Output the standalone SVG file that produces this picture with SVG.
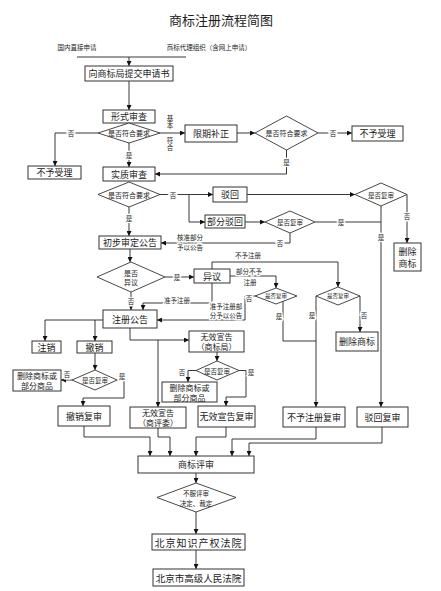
<svg xmlns="http://www.w3.org/2000/svg" width="441" height="591" viewBox="0 0 441 591">
<style>
.bg{fill:#fff}
.box{fill:#fff;stroke:#333;stroke-width:1}
.dia{fill:#fff;stroke:#333;stroke-width:0.9}
.ln{fill:none;stroke:#222;stroke-width:0.9}
.t{font-family:"Noto Sans CJK SC","Noto Sans CJK TC",sans-serif;text-anchor:middle;dominant-baseline:central;fill:#222}
.b{font-size:9px}
.m{font-size:8px}
.s{font-size:6.5px}
.d{font-size:7px}
.v{font-family:"Noto Sans CJK SC",sans-serif;font-size:6.5px;fill:#222;writing-mode:vertical-rl;text-anchor:middle}
.lbl{font-family:"Noto Sans CJK SC",sans-serif;text-anchor:middle;dominant-baseline:central;fill:#222;font-size:6.5px;paint-order:stroke;stroke:#fff;stroke-width:2.5px}
</style>
<defs>
<marker id="ar" viewBox="0 0 6 6" refX="6" refY="3" markerWidth="5" markerHeight="5" markerUnits="userSpaceOnUse" orient="auto">
<path d="M0,0 L6,3 L0,6 z" fill="#111"/>
</marker>
</defs>
<rect class="bg" x="0" y="0" width="441" height="591"/>
<text class="t" x="221" y="19" font-size="13">商标注册流程简图</text>
<text class="t s" x="77" y="47">国内直接申请</text>
<text class="t s" x="209" y="47">商标代理组织（含网上申请）</text>

<g id="connectors">
<path class="ln" d="M77,57 H186"/>
<path class="ln" d="M129,57 V66" marker-end="url(#ar)"/>
<path class="ln" d="M129,81 V110" marker-end="url(#ar)"/>
<path class="ln" d="M98,133 H55 V166" marker-end="url(#ar)"/>
<path class="ln" d="M129,143 V167" marker-end="url(#ar)"/>
<path class="ln" d="M160,133 H185" marker-end="url(#ar)"/>
<path class="ln" d="M237,133 H255" marker-end="url(#ar)"/>
<path class="ln" d="M318,133 H352" marker-end="url(#ar)"/>
<path class="ln" d="M286.5,150 V174 H155" marker-end="url(#ar)"/>
<path class="ln" d="M129,207 V236" marker-end="url(#ar)"/>
<path class="ln" d="M160,194.5 H213" marker-end="url(#ar)"/>
<path class="ln" d="M189,194.5 V222 H205" marker-end="url(#ar)"/>
<path class="ln" d="M247,194.5 H355" marker-end="url(#ar)"/>
<path class="ln" d="M407,194.5 V243" marker-end="url(#ar)"/>
<path class="ln" d="M381,206 V407" marker-end="url(#ar)"/>
<path class="ln" d="M245,222 H265" marker-end="url(#ar)"/>
<path class="ln" d="M315,222 H381"/>
<path class="ln" d="M290,233 V243 H161" marker-end="url(#ar)"/>
<path class="ln" d="M130,249 V262" marker-end="url(#ar)"/>
<path class="ln" d="M165,277 H194" marker-end="url(#ar)"/>
<path class="ln" d="M212,269 V262 H338 V287" marker-end="url(#ar)"/>
<path class="ln" d="M230,276 H276 V288" marker-end="url(#ar)"/>
<path class="ln" d="M255,296 H245 V320 H157" marker-end="url(#ar)"/>
<path class="ln" d="M212,283 V303 H143 V310" marker-end="url(#ar)"/>
<path class="ln" d="M131,292 V310" marker-end="url(#ar)"/>
<path class="ln" d="M283,301 V341 H316"/>
<path class="ln" d="M316,296 V407" marker-end="url(#ar)"/>
<path class="ln" d="M360,296 V332" marker-end="url(#ar)"/>
<path class="ln" d="M103,320 H45 V341" marker-end="url(#ar)"/>
<path class="ln" d="M95,320 V341" marker-end="url(#ar)"/>
<path class="ln" d="M95,353 V370" marker-end="url(#ar)"/>
<path class="ln" d="M72,380 H61" marker-end="url(#ar)"/>
<path class="ln" d="M117,380 H124 V398 H83 V406" marker-end="url(#ar)"/>
<path class="ln" d="M130,328 V340 H189" marker-end="url(#ar)"/>
<path class="ln" d="M158,340 V407" marker-end="url(#ar)"/>
<path class="ln" d="M217,352 V361" marker-end="url(#ar)"/>
<path class="ln" d="M196,370.5 H188 V382" marker-end="url(#ar)"/>
<path class="ln" d="M239,370.5 H246 V397 H226 V406" marker-end="url(#ar)"/>
<path class="ln" d="M84,426 V437 H150 V456" marker-end="url(#ar)"/>
<path class="ln" d="M158,428 V437 H170 V456" marker-end="url(#ar)"/>
<path class="ln" d="M226,427 V437 H196 V456" marker-end="url(#ar)"/>
<path class="ln" d="M316,427 V439 H232 V456" marker-end="url(#ar)"/>
<path class="ln" d="M382,427 V443 H249 V456" marker-end="url(#ar)"/>
<path class="ln" d="M196,473 V483" marker-end="url(#ar)"/>
<path class="ln" d="M196,512 V534" marker-end="url(#ar)"/>
<path class="ln" d="M196,550 V569" marker-end="url(#ar)"/>
<text class="lbl" x="71" y="133">否</text>
<text class="lbl" x="129" y="155">是</text>
<text class="v" x="170" y="122">基本</text>
<text class="v" x="170" y="144">符合</text>
<text class="lbl" x="333" y="133">否</text>
<text class="lbl" x="286.5" y="162">是</text>
<text class="lbl" x="129" y="218">是</text>
<text class="lbl" x="173" y="194.5">否</text>
<text class="lbl" x="407" y="216">否</text>
<text class="lbl" x="381" y="237">是</text>
<text class="lbl" x="341" y="222">是</text>
<text class="lbl" x="280" y="243">否</text>
<text class="lbl" x="190" y="237">核准部分</text>
<text class="lbl" x="190" y="247">予以公告</text>
<text class="lbl" x="177" y="277">是</text>
<text class="lbl" x="248" y="255">不予注册</text>
<text class="lbl" x="249" y="271">部分不予</text>
<text class="lbl" x="250" y="282">注册</text>
<text class="lbl" x="249" y="298">否</text>
<text class="lbl" x="226" y="306">准予注册部</text>
<text class="lbl" x="226" y="315">分予以公告</text>
<text class="lbl" x="177" y="299.5">准予注册</text>
<text class="lbl" x="131" y="301">否</text>
<text class="lbl" x="279" y="316">是</text>
<text class="lbl" x="312" y="315">是</text>
<text class="lbl" x="364" y="315">否</text>
<text class="lbl" x="67" y="374">否</text>
<text class="lbl" x="122" y="376">是</text>
<text class="lbl" x="182" y="372">否</text>
<text class="lbl" x="251" y="372">是</text>
</g>

<g id="n_submit"><rect class="box" x="85" y="66" width="88" height="15"/><text class="t b" x="129" y="73.5">向商标局提交申请书</text></g>
<g id="n_formal"><rect class="box" x="103" y="110" width="52" height="13"/><text class="t b" x="129" y="116.5">形式审查</text></g>
<g id="d_req1"><polygon class="dia" points="129,123 160,133 129,143 98,133"/><text class="t d" x="129" y="133">是否符合要求</text></g>
<g id="n_reject1"><rect class="box" x="28" y="166" width="53" height="13"/><text class="t b" x="54.5" y="172.5">不予受理</text></g>
<g id="n_correct"><rect class="box" x="185" y="125" width="52" height="17"/><text class="t b" x="211" y="133.5">限期补正</text></g>
<g id="d_req2"><polygon class="dia" points="286.5,116 318,133 286.5,150 255,133"/><text class="t d" x="286.5" y="133">是否符合要求</text></g>
<g id="n_reject2"><rect class="box" x="352" y="126" width="51" height="15"/><text class="t b" x="377.5" y="133.5">不予受理</text></g>
<g id="n_subst"><rect class="box" x="103" y="167" width="52" height="14"/><text class="t b" x="129" y="174">实质审查</text></g>
<g id="d_req3"><polygon class="dia" points="129,182 160,194.5 129,207 98,194.5"/><text class="t d" x="129" y="194.5">是否符合要求</text></g>
<g id="n_refuse"><rect class="box" x="213" y="187" width="34" height="15"/><text class="t b" x="230" y="194.5">驳回</text></g>
<g id="n_partrefuse"><rect class="box" x="205" y="215" width="40" height="13"/><text class="t b" x="225" y="221.5">部分驳回</text></g>
<g id="d_review1"><polygon class="dia" points="381,183 407,194.5 381,206 355,194.5"/><text class="t s" x="381" y="194.5">是否复审</text></g>
<g id="n_delete1"><rect class="box" x="394" y="243" width="27" height="28"/><text class="t b" x="407.5" y="251.5">删除</text><text class="t b" x="407.5" y="263">商标</text></g>
<g id="d_review2"><polygon class="dia" points="290,211 315,222 290,233 265,222"/><text class="t s" x="290" y="222">是否复审</text></g>
<g id="n_prelim"><rect class="box" x="99" y="236" width="62" height="13"/><text class="t b" x="130" y="242.5">初步审定公告</text></g>
<g id="d_oppose"><polygon class="dia" points="131,262 165,277 131,292 97,277"/><text class="t d" x="131" y="272.5">是否</text><text class="t d" x="131" y="281.5">异议</text></g>
<g id="n_oppose"><rect class="box" x="194" y="269" width="36" height="14"/><text class="t b" x="212" y="276">异议</text></g>
<g id="d_review3"><polygon class="dia" points="276,288 297,296 276,304 255,296"/><text class="t" x="276" y="296" font-size="5.5px">是否复审</text></g>
<g id="d_review4"><polygon class="dia" points="338,287 360,296 338,305 316,296"/><text class="t" x="338" y="296" font-size="5.5px">是否复审</text></g>
<g id="n_delete2"><rect class="box" x="336" y="332" width="42" height="19"/><text class="t b" x="357" y="341.5">删除商标</text></g>
<g id="n_publish"><rect class="box" x="103" y="310" width="54" height="18"/><text class="t b" x="130" y="319">注册公告</text></g>
<g id="n_cancel"><rect class="box" x="32" y="341" width="29" height="12"/><text class="t b" x="46.5" y="347">注销</text></g>
<g id="n_revoke"><rect class="box" x="77" y="341" width="35" height="12"/><text class="t b" x="94.5" y="347">撤销</text></g>
<g id="d_review5"><polygon class="dia" points="95,370 117,380 95,390 72,380"/><text class="t s" x="95" y="380">是否复审</text></g>
<g id="n_delete3"><rect class="box" x="13" y="370" width="48" height="21"/><text class="t m" x="37" y="375.5">删除商标或</text><text class="t m" x="37" y="385.5">部分商品</text></g>
<g id="n_revokereview"><rect class="box" x="58" y="406" width="52" height="20"/><text class="t b" x="84" y="416">撤销复审</text></g>
<g id="n_invalid1"><rect class="box" x="189" y="331" width="55" height="21"/><text class="t m" x="216.5" y="336.5">无效宣告</text><text class="t m" x="216.5" y="346.5">（商标局）</text></g>
<g id="d_review6"><polygon class="dia" points="217,361 239,370.5 217,380 196,370.5"/><text class="t s" x="217" y="370.5">是否复审</text></g>
<g id="n_delete4"><rect class="box" x="162" y="382" width="55" height="20"/><text class="t m" x="189.5" y="387">删除商标或</text><text class="t m" x="189.5" y="397">部分商品</text></g>
<g id="n_invalidreview"><rect class="box" x="198" y="406" width="57" height="21"/><text class="t b" x="226.5" y="416.5">无效宣告复审</text></g>
<g id="n_invalid2"><rect class="box" x="130" y="407" width="56" height="21"/><text class="t m" x="158" y="412.5">无效宣告</text><text class="t m" x="158" y="422.5">（商评委）</text></g>
<g id="n_notregreview"><rect class="box" x="283" y="407" width="62" height="20"/><text class="t b" x="314" y="417">不予注册复审</text></g>
<g id="n_refusereview"><rect class="box" x="357" y="407" width="51" height="20"/><text class="t b" x="382.5" y="417">驳回复审</text></g>
<g id="n_board"><rect class="box" x="138" y="456" width="116" height="17"/><text class="t b" x="196" y="464.5">商标评审</text></g>
<g id="d_appeal"><polygon class="dia" points="196,483 236,497.5 196,512 157,497.5"/><text class="t s" x="196" y="493">不服评审</text><text class="t s" x="196" y="502.5">决定、裁定</text></g>
<g id="n_ipcourt"><rect class="box" x="152" y="534" width="93" height="16"/><text class="t" x="198.5" y="542" font-size="10px" letter-spacing="1">北京知识产权法院</text></g>
<g id="n_highcourt"><rect class="box" x="153" y="569" width="91" height="17"/><text class="t" x="198.5" y="577.5" font-size="9.5px">北京市高级人民法院</text></g>
</svg>
